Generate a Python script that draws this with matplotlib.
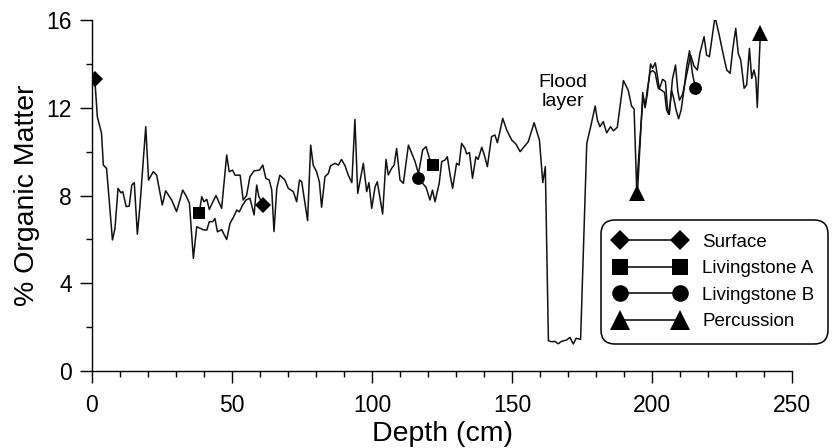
import matplotlib
matplotlib.use('Agg')
import matplotlib.pyplot as plt
from matplotlib.lines import Line2D
from matplotlib.ticker import MultipleLocator

plt.rcParams['font.family'] = ['Liberation Sans', 'DejaVu Sans']

# depth (cm) and % organic matter for each core
surface_depth = [1.0, 1.9, 3.4, 4.05, 5.2, 7.3, 8.2, 9.3, 10.3, 11.0, 12.2, 13.3, 14.2, 15.1,
                 16.2, 17.1, 19.2, 20.2, 21.9, 23.1, 25.1, 26.3, 28.5, 30.2, 32.4, 33.6,
                 34.8, 36.2, 37.4, 38.3, 39.8, 41.0, 41.9, 43.1, 43.9, 44.8, 46.3, 48.1,
                 49.3, 50.5, 51.7, 52.6, 53.8, 55.0, 56.4, 57.9, 58.8, 59.6, 61.2]
surface_om = [13.31, 11.6, 10.84, 9.39, 9.24, 5.98, 6.5, 8.33, 8.13, 8.18, 7.5, 7.52, 8.48, 8.59,
              6.24, 7.5, 11.14, 8.71, 9.09, 8.93, 7.57, 8.22, 7.79, 7.27, 8.25, 7.99,
              7.65, 5.14, 6.58, 6.53, 6.44, 6.43, 6.81, 6.81, 6.96, 6.35, 6.45, 6.0,
              6.74, 7.01, 7.34, 7.26, 7.57, 7.8, 7.88, 7.12, 8.48, 7.95, 7.57]

livA_depth = [38.3, 39.2, 40.0, 41.0, 41.9, 43.1, 44.3, 45.5, 46.3, 48.1, 49.0, 50.2, 51.1,
              52.9, 54.0, 55.2, 56.4, 57.9, 59.8, 61.0, 62.1, 63.3, 64.2, 65.0, 66.0, 67.1,
              68.9, 70.1, 71.9, 73.1, 74.1, 74.9, 77.0, 78.1, 79.0, 80.2, 81.2, 82.0, 83.2,
              84.4, 85.2, 86.8, 88.0, 89.1, 90.4, 91.5, 92.8, 93.9, 94.9, 96.9, 98.1, 98.9,
              99.9, 101.1, 101.9, 103.8, 105.0, 105.8, 107.0, 107.9, 108.8, 110.0, 111.2,
              113.0, 114.2, 115.4, 116.6, 118.1, 119.3, 120.5, 121.9]
livA_om = [7.22, 7.95, 7.72, 7.83, 7.37, 7.7, 8.0, 7.65, 7.42, 9.85, 9.09, 9.16, 8.93,
           8.93, 7.8, 8.0, 8.86, 9.13, 9.16, 9.39, 8.78, 8.71, 8.25, 6.36, 8.33, 8.93,
           8.71, 8.33, 8.18, 7.72, 8.71, 8.63, 6.86, 10.3, 9.39, 9.09, 8.63, 7.47, 8.86,
           9.01, 9.36, 9.47, 9.39, 9.65, 9.35, 8.94, 8.59, 11.47, 8.1, 9.47, 8.18, 8.59,
           7.42, 8.4, 8.63, 7.16, 9.65, 8.94, 9.24, 9.39, 10.15, 8.71, 8.56,
           10.3, 9.93, 9.54, 9.0, 10.08, 10.23, 9.7, 9.39]

livB_depth = [116.5, 119.3, 120.7, 121.6, 122.5, 124.0, 124.9, 126.1, 126.9, 127.9, 128.8,
              130.2, 131.1, 132.0, 133.2, 133.8, 134.8, 135.9, 137.1, 137.9, 139.2, 140.0,
              141.2, 142.7, 143.9, 144.8, 146.7, 148.1, 149.9, 151.4, 152.9, 154.6, 155.8,
              157.9, 159.8, 161.0, 161.9, 163.0, 164.2, 165.3, 166.5, 167.7, 169.5, 170.7,
              171.9, 172.9, 174.5, 176.7, 178.1, 179.7, 180.5, 181.4, 182.6, 183.8, 185.2,
              186.2, 187.6, 189.8, 191.5, 192.7, 193.6, 194.5, 196.8, 197.6, 198.3, 199.3,
              200.2, 201.1, 202.2, 203.4, 204.5, 205.2, 206.0, 207.0, 207.8, 208.6, 209.5,
              210.4, 211.5, 212.4, 213.4, 214.4, 215.5]
livB_om = [8.79, 8.38, 7.8, 8.25, 7.72, 8.56, 9.55, 9.62, 9.77, 8.94, 8.33,
           9.47, 9.39, 10.38, 10.15, 9.9, 9.96, 8.79, 9.77, 9.65, 10.2, 9.9,
           9.32, 10.69, 10.76, 10.41, 11.52, 10.99, 10.53, 10.35, 10.0, 10.27, 10.45,
           11.32, 10.53, 8.59, 9.32, 1.39, 1.34, 1.36, 1.25, 1.36, 1.42, 1.54,
           1.24, 1.5, 1.45, 10.38, 11.14, 12.08, 11.44, 11.14, 11.37, 10.86, 11.14,
           10.95, 11.11, 13.24, 12.8, 12.08, 11.95, 8.4, 12.5, 12.1, 12.8, 13.6,
           13.7, 13.6, 12.9, 12.8, 12.7, 11.9, 11.7, 12.8, 12.4, 11.9, 11.5,
           11.9, 12.9, 13.9, 14.6, 13.6, 12.89]

perc_depth = [194.8, 196.7, 197.5, 198.3, 199.5, 200.2, 201.2, 202.0, 202.6, 203.8, 204.8,
              205.5, 206.2, 207.3, 208.4, 209.2, 209.8, 210.9, 212.2, 213.8, 215.0, 216.2,
              217.1, 218.6, 219.5, 220.5, 222.5, 224.0, 225.5, 226.7, 227.9, 228.8, 229.9,
              230.8, 231.7, 232.9, 233.8, 234.8, 235.6, 236.4, 237.1, 237.6, 238.7]
perc_om = [8.1, 12.7, 12.0, 12.6, 14.0, 13.8, 14.05, 13.4, 12.85, 13.3, 13.2,
           12.0, 11.7, 13.3, 13.95, 12.8, 12.35, 12.6, 13.4, 14.4, 13.9, 13.72,
           14.48, 15.24, 14.4, 14.33, 16.15, 15.32, 14.4, 13.72, 13.57, 14.63, 15.62,
           14.48, 14.17, 12.89, 13.04, 14.71, 13.34, 13.72, 13.34, 12.02, 15.39]

cores = ['Surface', 'Livingstone A', 'Livingstone B', 'Percussion']
depths = [surface_depth, livA_depth, livB_depth, perc_depth]
values = [surface_om, livA_om, livB_om, perc_om]
markers = ['D', 's', 'o', '^']
msizes = [7.8, 8.6, 9.2, 11.5]

fig = plt.figure(figsize=(8.34, 4.48), dpi=100)
ax = fig.add_axes([92 / 834, 1 - 371.2 / 448, 700 / 834, 351.2 / 448])

for d, v, m, s in zip(depths, values, markers, msizes):
    ax.plot(d, v, color='#111111', lw=1.1, marker=m, ms=s, mfc='black',
            markevery=[0, len(d) - 1], markeredgewidth=0)

ax.text(168.2, 12.7, 'Flood\nlayer', ha='center', va='center',
        fontsize=14, linespacing=1.15)

ax.set_xlim(0, 250)
ax.set_ylim(0, 16)
ax.xaxis.set_major_locator(MultipleLocator(50))
ax.xaxis.set_minor_locator(MultipleLocator(10))
ax.yaxis.set_major_locator(MultipleLocator(4))
ax.yaxis.set_minor_locator(MultipleLocator(2))
ax.spines['top'].set_visible(False)
ax.spines['right'].set_visible(False)
for sp in ['left', 'bottom']:
    ax.spines[sp].set_linewidth(1.0)
ax.tick_params(which='major', length=8.4, width=1.0, labelsize=16.5)
ax.tick_params(axis='x', which='major', pad=8)
ax.tick_params(axis='y', which='major', pad=6)
ax.tick_params(which='minor', length=4.3, width=1.0)
ax.set_xlabel('Depth (cm)', fontsize=20.5, labelpad=3)
ax.set_ylabel('% Organic Matter', fontsize=20.5, labelpad=5)

handles = [Line2D([0], [0], color='black', lw=1.1, marker=m, ms=s * 1.3,
                  markeredgewidth=0, label=c)
           for c, m, s in zip(cores, markers, msizes)]
leg = fig.legend(handles=handles, loc='upper right', bbox_to_anchor=(0.993, 0.509),
                 numpoints=2, handlelength=3.8, handletextpad=0.87,
                 labelspacing=0.5, borderpad=0.72, borderaxespad=0, fontsize=13.5,
                 frameon=True, fancybox=True, edgecolor='black', framealpha=1)
leg.get_frame().set_linewidth(1.1)
leg.get_frame().set_boxstyle('round', pad=0, rounding_size=0.75)

plt.savefig('out.png', dpi=100)
